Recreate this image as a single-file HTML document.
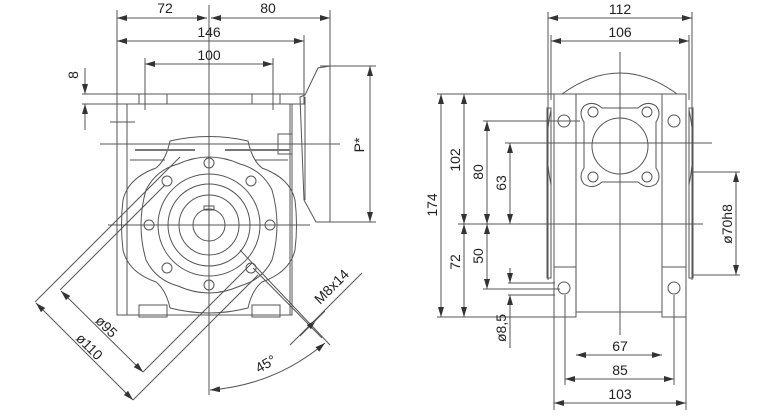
<!DOCTYPE html>
<html><head><style>
body{margin:0;background:#fff;}
svg{display:block;}
text{font-family:"Liberation Sans",sans-serif;font-size:14px;fill:#222;}
</style></head><body>
<svg width="758" height="419" viewBox="0 0 758 419" xmlns="http://www.w3.org/2000/svg">
<defs>
<marker id="a" viewBox="0 0 10 6" refX="10" refY="3" markerWidth="10" markerHeight="6" orient="auto-start-reverse" markerUnits="userSpaceOnUse"><path d="M0,0L10,3L0,6z" fill="#333"/></marker>
</defs>
<g stroke="#555" stroke-width="1" fill="none">
<line x1="117" y1="10" x2="117" y2="310"/>
<line x1="330" y1="10" x2="330" y2="70"/>
<line x1="304" y1="35" x2="304" y2="95"/>
<line x1="145" y1="58" x2="145" y2="110"/>
<line x1="273" y1="58" x2="273" y2="110"/>
<line x1="117" y1="18" x2="207" y2="18" marker-start="url(#a)" marker-end="url(#a)"/>
<line x1="211" y1="18" x2="330" y2="18" marker-start="url(#a)" marker-end="url(#a)"/>
<line x1="117" y1="41" x2="304" y2="41" marker-start="url(#a)" marker-end="url(#a)"/>
<line x1="145" y1="64" x2="273" y2="64" marker-start="url(#a)" marker-end="url(#a)"/>
<line x1="82" y1="94" x2="120" y2="94"/>
<line x1="82" y1="104" x2="120" y2="104"/>
<line x1="85" y1="68" x2="85" y2="94" marker-end="url(#a)"/>
<line x1="85" y1="130" x2="85" y2="104" marker-end="url(#a)"/>
<line x1="209" y1="5" x2="209" y2="395"/>
<line x1="100" y1="144" x2="340" y2="144"/>
<line x1="108" y1="225" x2="310" y2="225"/>
<rect x="117" y="94" width="187" height="10"/>
<rect x="139" y="94" width="28" height="10"/>
<rect x="252" y="94" width="28" height="10"/>
<rect x="117" y="104" width="175" height="211"/>
<line x1="127" y1="104" x2="127" y2="315"/>
<line x1="290" y1="104" x2="290" y2="315"/>
<line x1="110" y1="122" x2="135" y2="122"/>
<rect x="139" y="305" width="28" height="12"/>
<rect x="252" y="305" width="28" height="12"/>
<path d="M300,97 L305,95 L318,68 L330,66 L330,222 L316,222 L304,200 Z"/>
<line x1="305" y1="97" x2="305" y2="200"/>
<rect x="278" y="134" width="14" height="20"/>
<line x1="320" y1="66" x2="376" y2="66"/>
<line x1="330" y1="222" x2="376" y2="222"/>
<line x1="370" y1="66" x2="370" y2="222" marker-start="url(#a)" marker-end="url(#a)"/>
<path d="M170,141 Q209,132 248,141 Q252,160 262,168 Q290,178 295,200 Q298,225 295,250 Q290,272 262,282 Q252,290 248,308 Q209,318 170,308 Q166,290 156,282 Q128,272 123,250 Q120,225 123,200 Q128,178 156,168 Q166,160 170,141 Z"/>
<path d="M178,164 Q209,150 240,164 Q262,170 272,190 Q282,225 272,260 Q262,280 240,286 Q209,300 178,286 Q156,280 146,260 Q136,225 146,190 Q156,170 178,164 Z"/>
<line x1="135" y1="150" x2="195" y2="150" stroke="#777" stroke-width="2"/>
<line x1="225" y1="150" x2="290" y2="150" stroke="#777" stroke-width="2"/>
<line x1="130" y1="160" x2="165" y2="160"/>
<line x1="255" y1="160" x2="288" y2="160"/>
<circle cx="209" cy="225" r="16"/>
<rect x="204" y="206" width="10" height="4"/>
<circle cx="209" cy="225" r="30"/>
<circle cx="209" cy="225" r="41"/>
<circle cx="209" cy="225" r="51"/>
<circle cx="209" cy="163" r="5"/><circle cx="167" cy="181" r="5"/><circle cx="251" cy="181" r="5"/>
<circle cx="149" cy="225" r="5"/><circle cx="270" cy="225" r="5"/>
<circle cx="167" cy="268" r="5"/><circle cx="251" cy="268" r="5"/><circle cx="209" cy="285" r="5"/>
<line x1="35" y1="302" x2="180" y2="157"/>
<line x1="60" y1="290" x2="165" y2="185"/>
<line x1="133" y1="400" x2="258" y2="275"/>
<line x1="143" y1="372" x2="252" y2="263"/>
<line x1="36" y1="303" x2="133" y2="400" marker-start="url(#a)" marker-end="url(#a)"/>
<line x1="61" y1="291" x2="143" y2="372" marker-start="url(#a)" marker-end="url(#a)"/>
<line x1="240" y1="250" x2="330" y2="345"/>
<line x1="253" y1="268" x2="322" y2="338"/>
<line x1="290" y1="345" x2="362" y2="273"/>
<line x1="300" y1="336" x2="316" y2="320" marker-end="url(#a)"/>
<line x1="325" y1="311" x2="312" y2="324"/>
<path d="M210,390 Q275,385 325,343" marker-start="url(#a)" marker-end="url(#a)"/>
<line x1="548" y1="12" x2="548" y2="280"/>
<line x1="692" y1="12" x2="692" y2="280"/>
<line x1="551" y1="35" x2="551" y2="100"/>
<line x1="689" y1="35" x2="689" y2="100"/>
<line x1="548" y1="18" x2="692" y2="18" marker-start="url(#a)" marker-end="url(#a)"/>
<line x1="551" y1="41" x2="689" y2="41" marker-start="url(#a)" marker-end="url(#a)"/>
<path d="M562,94 Q620,52 677,94"/>
<path d="M551,110 Q543,145 551,185"/>
<path d="M689,110 Q697,145 689,185"/>
<rect x="547" y="108" width="4" height="170"/>
<rect x="689" y="108" width="4" height="170"/>
<rect x="554" y="94" width="132" height="49"/>
<line x1="576" y1="94" x2="576" y2="317"/>
<line x1="662" y1="94" x2="662" y2="317"/>
<rect x="554" y="267" width="22" height="50"/>
<rect x="662" y="267" width="24" height="50"/>
<line x1="554" y1="143" x2="554" y2="267"/>
<line x1="686" y1="143" x2="686" y2="267"/>
<line x1="576" y1="312" x2="662" y2="312"/>
<path d="M584,106 Q593,100 602,108 L638,108 Q647,100 656,106 Q662,113 656,122 L656,168 Q662,177 656,184 Q647,190 638,182 L602,182 Q593,190 584,184 Q578,177 584,168 L584,122 Q578,113 584,106 Z"/>
<circle cx="620" cy="146" r="28"/>
<circle cx="593" cy="112" r="5"/><circle cx="647" cy="112" r="5"/>
<circle cx="593" cy="177" r="5"/><circle cx="647" cy="177" r="5"/>
<circle cx="564" cy="121" r="6"/><circle cx="674" cy="121" r="6"/>
<circle cx="564" cy="288" r="6"/><circle cx="674" cy="288" r="6"/>
<line x1="620" y1="52" x2="620" y2="335"/>
<line x1="437" y1="94" x2="556" y2="94"/>
<line x1="437" y1="317" x2="556" y2="317"/>
<line x1="483" y1="121" x2="580" y2="121"/>
<line x1="505" y1="143" x2="712" y2="143"/>
<line x1="458" y1="224" x2="703" y2="224"/>
<line x1="483" y1="289" x2="560" y2="289"/>
<line x1="508" y1="283" x2="555" y2="283"/>
<line x1="508" y1="295" x2="555" y2="295"/>
<line x1="441" y1="94" x2="441" y2="317" marker-start="url(#a)" marker-end="url(#a)"/>
<line x1="464" y1="94" x2="464" y2="224" marker-start="url(#a)" marker-end="url(#a)"/>
<line x1="464" y1="224" x2="464" y2="317" marker-start="url(#a)" marker-end="url(#a)"/>
<line x1="487" y1="121" x2="487" y2="224" marker-start="url(#a)" marker-end="url(#a)"/>
<line x1="487" y1="224" x2="487" y2="289" marker-start="url(#a)" marker-end="url(#a)"/>
<line x1="510" y1="143" x2="510" y2="224" marker-start="url(#a)" marker-end="url(#a)"/>
<line x1="510" y1="268" x2="510" y2="283" marker-end="url(#a)"/>
<line x1="510" y1="348" x2="510" y2="295" marker-end="url(#a)"/>
<line x1="693" y1="172" x2="740" y2="172"/>
<line x1="693" y1="275" x2="740" y2="275"/>
<line x1="736" y1="172" x2="736" y2="275" marker-start="url(#a)" marker-end="url(#a)"/>
<line x1="554" y1="317" x2="554" y2="410"/>
<line x1="686" y1="317" x2="686" y2="410"/>
<line x1="565" y1="295" x2="565" y2="385"/>
<line x1="674" y1="295" x2="674" y2="385"/>
<line x1="576" y1="355" x2="662" y2="355" marker-start="url(#a)" marker-end="url(#a)"/>
<line x1="565" y1="379" x2="674" y2="379" marker-start="url(#a)" marker-end="url(#a)"/>
<line x1="554" y1="403" x2="686" y2="403" marker-start="url(#a)" marker-end="url(#a)"/>
</g>
<g>
<text x="165" y="13" text-anchor="middle">72</text>
<text x="268" y="13" text-anchor="middle">80</text>
<text x="209" y="37" text-anchor="middle">146</text>
<text x="209" y="60" text-anchor="middle">100</text>
<text transform="translate(78,75) rotate(-90)" text-anchor="middle">8</text>
<text transform="translate(364,145) rotate(-90)" text-anchor="middle">P*</text>
<text transform="translate(103,330) rotate(45)" text-anchor="middle">ø95</text>
<text transform="translate(86,350) rotate(45)" text-anchor="middle">ø110</text>
<text transform="translate(335,290) rotate(-45)" text-anchor="middle">M8x14</text>
<text transform="translate(268,368) rotate(-30)" text-anchor="middle">45°</text>
<text x="620" y="14" text-anchor="middle">112</text>
<text x="620" y="37" text-anchor="middle">106</text>
<text transform="translate(437,205) rotate(-90)" text-anchor="middle">174</text>
<text transform="translate(460,160) rotate(-90)" text-anchor="middle">102</text>
<text transform="translate(460,262) rotate(-90)" text-anchor="middle">72</text>
<text transform="translate(483,172) rotate(-90)" text-anchor="middle">80</text>
<text transform="translate(483,256) rotate(-90)" text-anchor="middle">50</text>
<text transform="translate(506,183) rotate(-90)" text-anchor="middle">63</text>
<text transform="translate(506,328) rotate(-90)" text-anchor="middle">ø8,5</text>
<text transform="translate(732,224) rotate(-90)" text-anchor="middle">ø70h8</text>
<text x="620" y="351" text-anchor="middle">67</text>
<text x="620" y="375" text-anchor="middle">85</text>
<text x="620" y="399" text-anchor="middle">103</text>
</g>
</svg>
</body></html>
